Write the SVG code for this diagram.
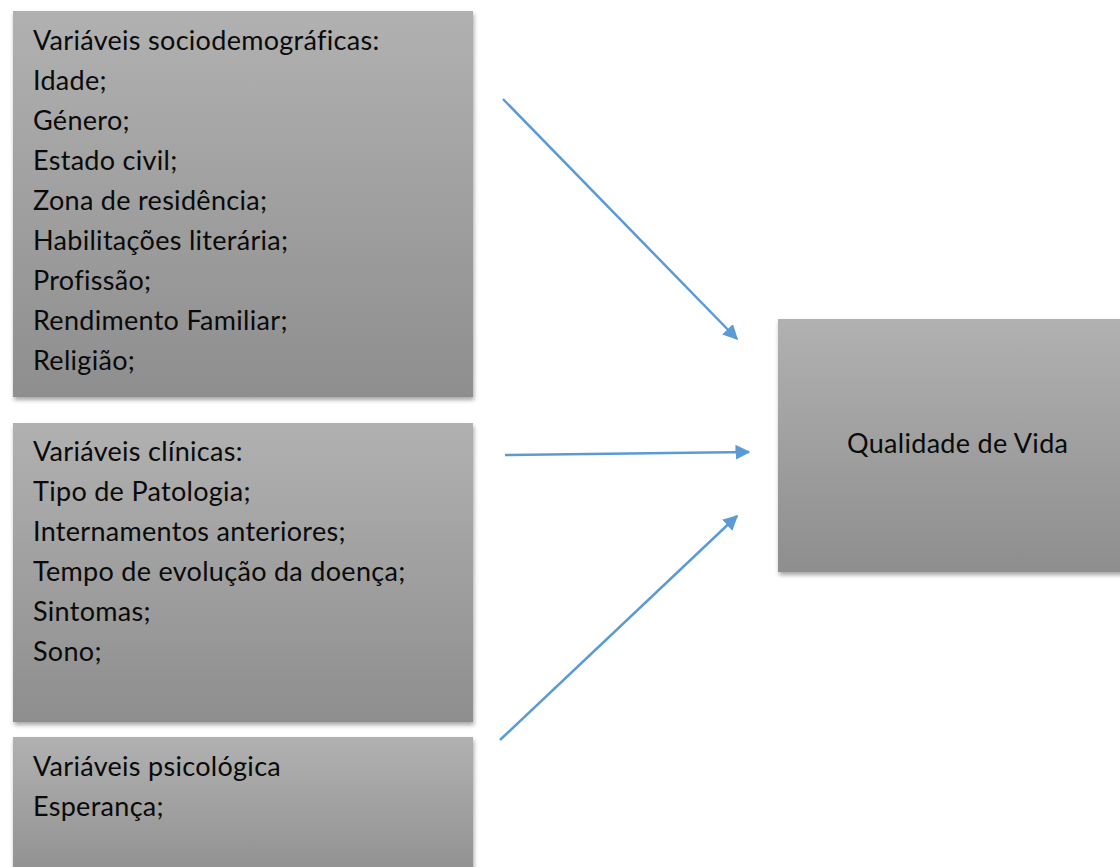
<svg xmlns="http://www.w3.org/2000/svg" width="1120" height="867" viewBox="0 0 1120 867">
<defs>
<linearGradient id="g" x1="0" y1="0" x2="0" y2="1">
<stop offset="0" stop-color="#b1b1b1"/>
<stop offset="1" stop-color="#8e8e8e"/>
</linearGradient>
<filter id="sh" x="-5%" y="-5%" width="110%" height="115%">
<feDropShadow dx="1" dy="3" stdDeviation="2" flood-color="#000" flood-opacity="0.35"/>
</filter>
<marker id="ah" viewBox="0 0 10 10" refX="9" refY="5" markerWidth="6" markerHeight="6" markerUnits="strokeWidth" orient="auto">
<path d="M0,0 L10,5 L0,10 z" fill="#5b9bd5"/>
</marker>
</defs>
<style>
.box{fill:url(#g);filter:url(#sh)}
.t{font-family:Lato,"Open Sans",sans-serif;font-size:27px;letter-spacing:0.3px;fill:#0a0a0a}
.c{stroke:#5b9bd5;stroke-width:2.5;fill:none;marker-end:url(#ah)}
</style>
<rect width="1120" height="867" fill="#fff"/>
<g id="socio">
<rect class="box" x="13" y="11" width="460" height="386"/>
<text class="t" x="33" y="50">Variáveis sociodemográficas:</text>
<text class="t" x="33" y="90">Idade;</text>
<text class="t" x="33" y="130">Género;</text>
<text class="t" x="33" y="170">Estado civil;</text>
<text class="t" x="33" y="210">Zona de residência;</text>
<text class="t" x="33" y="250">Habilitações literária;</text>
<text class="t" x="33" y="290">Profissão;</text>
<text class="t" x="33" y="330">Rendimento Familiar;</text>
<text class="t" x="33" y="370">Religião;</text>
</g>
<g id="clinicas">
<rect class="box" x="13" y="423" width="460" height="299"/>
<text class="t" x="33" y="461">Variáveis clínicas:</text>
<text class="t" x="33" y="501">Tipo de Patologia;</text>
<text class="t" x="33" y="541">Internamentos anteriores;</text>
<text class="t" x="33" y="581">Tempo de evolução da doença;</text>
<text class="t" x="33" y="621">Sintomas;</text>
<text class="t" x="33" y="661">Sono;</text>
</g>
<g id="psico">
<rect class="box" x="13" y="737" width="460" height="150"/>
<text class="t" x="33" y="776">Variáveis psicológica</text>
<text class="t" x="33" y="816">Esperança;</text>
</g>
<g id="qv">
<rect class="box" x="778" y="319" width="360" height="253"/>
<text class="t" x="847" y="453">Qualidade de Vida</text>
</g>
<g id="connectors">
<line class="c" x1="503" y1="99" x2="737" y2="339"/>
<line class="c" x1="505" y1="455" x2="749" y2="452"/>
<line class="c" x1="500" y1="740" x2="737" y2="516"/>
</g>
</svg>
